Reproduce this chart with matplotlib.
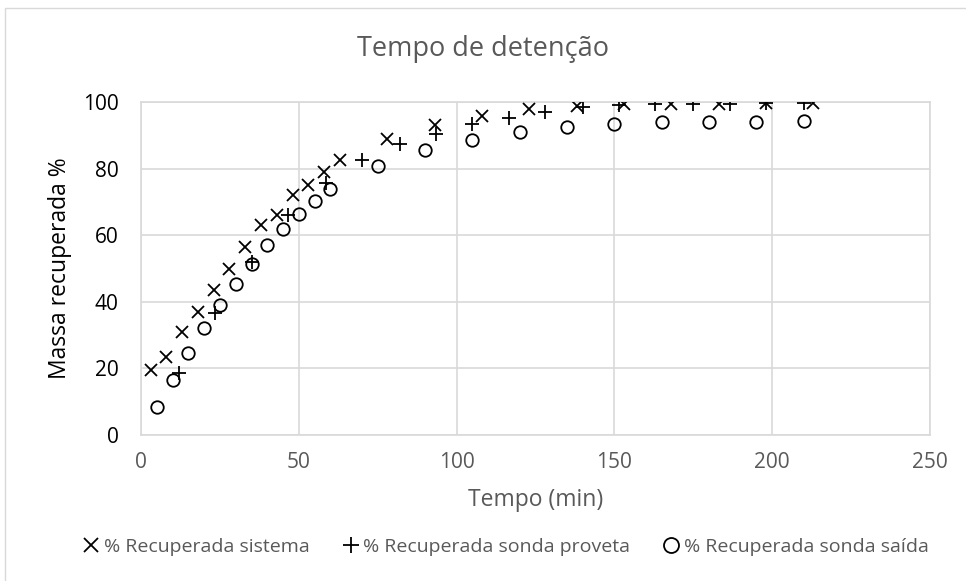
"""
Tempo de detenção: massa recuperada (%) ao longo do tempo
"""
import matplotlib
matplotlib.use('Agg')
import matplotlib.pyplot as plt
from matplotlib.patches import Rectangle

plt.rcParams['font.family'] = ['Open Sans', 'DejaVu Sans']

# % Recuperada sistema
t_sistema = [3, 8, 13, 18, 23, 28, 33, 38, 43, 48, 53, 58, 63,
             78, 93, 108, 123, 138, 153, 168, 183, 198, 213]
m_sistema = [19.5, 23.5, 31, 37, 43.5, 50, 56.5, 63, 66, 72, 75, 79, 82.5,
             89, 93, 95.8, 97.9, 98.8, 99.3, 99.4, 99.5, 99.6, 99.6]

# % Recuperada sonda proveta
t_proveta = [12, 23.5, 35, 46.5, 58.5, 70, 82, 93.5, 105, 116.5, 128,
             140, 151.5, 163, 175, 186.5, 198, 210]
m_proveta = [18.5, 36.7, 52, 66, 75.8, 82.5, 87.4, 90.5, 93.4, 95.3, 96.9,
             98.6, 99.2, 99.4, 99.4, 99.5, 99.6, 99.7]

# % Recuperada sonda saída
t_saida = [5, 10, 15, 20, 25, 30, 35, 40, 45, 50, 55, 60,
           75, 90, 105, 120, 135, 150, 165, 180, 195, 210]
m_saida = [8.3, 16.5, 24.5, 32, 39, 45.3, 51.3, 57, 62, 66.4, 70.4, 73.8,
           80.8, 85.6, 88.6, 91.1, 92.6, 93.4, 93.9, 94.1, 94.1, 94.3]

x_ticks = [0, 50, 100, 150, 200, 250]
y_ticks = [0, 20, 40, 60, 80, 100]

grid_color = '#d9d9d9'
text_grey = '#595959'

fig = plt.figure(figsize=(9.66, 5.81), dpi=100)
ax = fig.add_axes([0.146, 0.2513, 0.8168, 0.5731])

# moldura do gráfico
fig.patches.append(Rectangle((5 / 966, -0.01), 1.0, 1.0 - 8 / 581 + 0.01,
                             transform=fig.transFigure, fill=False,
                             edgecolor=grid_color, linewidth=1.0))

ax.plot(t_sistema, m_sistema, linestyle='none', marker='x', markersize=8.5,
        markeredgewidth=1.3, color='black', label='% Recuperada sistema',
        zorder=3)
ax.plot(t_proveta, m_proveta, linestyle='none', marker='+', markersize=9.5,
        markeredgewidth=1.3, color='black', label='% Recuperada sonda proveta',
        zorder=3)
ax.plot(t_saida, m_saida, linestyle='none', marker='o', markersize=9,
        markeredgewidth=1.3, markerfacecolor='none', color='black',
        label='% Recuperada sonda saída', zorder=3)

ax.set_xlim(0, 250)
ax.set_ylim(0, 100)
ax.set_xticks(x_ticks)
ax.set_yticks(y_ticks)
ax.grid(True, color=grid_color, linewidth=1.2)
ax.set_axisbelow(True)
for s in ax.spines.values():
    s.set_color(grid_color)
    s.set_linewidth(1.2)
ax.tick_params(length=0)
ax.tick_params(axis='x', labelsize=15, labelcolor=text_grey, pad=12)
ax.tick_params(axis='y', labelsize=15, labelcolor='black', pad=16)

ax.set_xlabel('Tempo (min)', fontsize=16.5, color=text_grey, va='center')
ax.xaxis.set_label_coords(0.5, -0.195)
ax.set_ylabel('Massa recuperada %', fontsize=16.5, color='black', va='center')
ax.yaxis.set_label_coords(-0.1027, 0.5)
fig.text(0.5, 0.916, 'Tempo de detenção', ha='center', va='center',
         fontsize=19.5, color=text_grey)

fig.legend(loc='center', bbox_to_anchor=(0.524, 0.058), ncol=3, frameon=False,
           fontsize=14, labelcolor=text_grey, handletextpad=0.25,
           columnspacing=1.7, handlelength=0.8, markerscale=1.2)

fig.savefig('out.png', dpi=100)
